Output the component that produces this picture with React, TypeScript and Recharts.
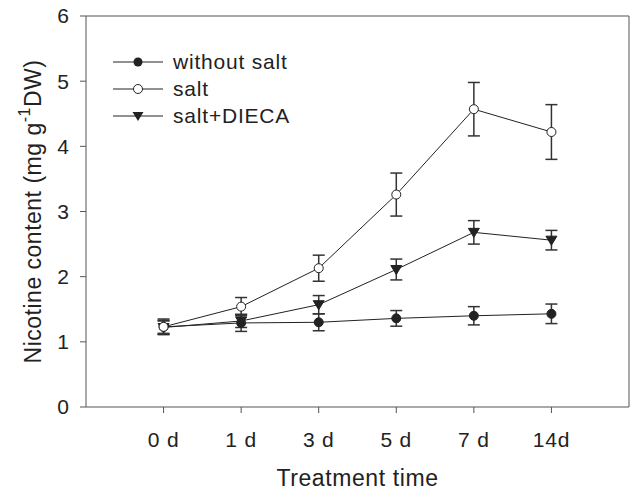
import {
  ErrorBar,
  Line,
  LineChart,
  ReferenceLine,
  XAxis,
  YAxis,
} from "recharts";

const days = ["0 d", "1 d", "3 d", "5 d", "7 d", "14d"];
const withoutSalt = [1.23, 1.29, 1.3, 1.36, 1.4, 1.43];
const withoutSaltErr = [0.12, 0.13, 0.13, 0.12, 0.14, 0.15];
const salt = [1.23, 1.54, 2.13, 3.26, 4.57, 4.22];
const saltErr = [0.1, 0.14, 0.2, 0.33, 0.41, 0.42];
const dieca = [1.22, 1.32, 1.57, 2.11, 2.68, 2.56];
const diecaErr = [0.1, 0.1, 0.14, 0.16, 0.18, 0.15];
const yTicks = [0, 1, 2, 3, 4, 5, 6];

const data = days.map((d, i) => ({
  x: i + 1,
  day: d,
  noSalt: withoutSalt[i],
  noSaltErr: withoutSaltErr[i],
  salt: salt[i],
  saltErr: saltErr[i],
  dieca: dieca[i],
  diecaErr: diecaErr[i],
}));

const FONT = '"Liberation Sans", Arial, sans-serif';
const INK = "#222";
const AXIS = "#555";

const Triangle = (props: any) => {
  const { cx, cy, key } = props;
  if (cx == null || cy == null) return null;
  return (
    <path
      key={key}
      d={`M${cx - 5.5},${cy - 4} L${cx + 5.5},${cy - 4} L${cx},${cy + 5} Z`}
      fill={INK}
      stroke={INK}
      strokeWidth={1}
    />
  );
};

const legendItems = [
  { name: "without salt", type: "filled" },
  { name: "salt", type: "open" },
  { name: "salt+DIECA", type: "tri" },
];

// legend sits inside the plot, top-left, as plain HTML over the svg
const LegendBox = () => (
  <div
    style={{
      position: "absolute",
      left: 113,
      top: 48,
      fontFamily: FONT,
      fontSize: 21,
      letterSpacing: 0.8,
      color: INK,
    }}
  >
    {legendItems.map((it) => (
      <div
        key={it.name}
        style={{ display: "flex", alignItems: "center", height: 27 }}
      >
        <svg width={50} height={14} style={{ marginRight: 10 }}>
          <line x1={0} y1={7} x2={50} y2={7} stroke={INK} strokeWidth={1} />
          {it.type === "filled" && <circle cx={25} cy={7} r={4.5} fill={INK} />}
          {it.type === "open" && (
            <circle cx={25} cy={7} r={4.5} fill="#fff" stroke={INK} />
          )}
          {it.type === "tri" && (
            <path d="M19.5,3 L30.5,3 L25,12 Z" fill={INK} />
          )}
        </svg>
        <span>{it.name}</span>
      </div>
    ))}
  </div>
);

const YLabel = (props: any) => {
  const vb = props.viewBox || {};
  const cx = 33;
  const cy = vb.y + vb.height / 2;
  return (
    <text
      x={cx}
      y={cy}
      transform={`rotate(-90, ${cx}, ${cy})`}
      textAnchor="middle"
      dominantBaseline="central"
      fontFamily={FONT}
      fontSize={23}
      letterSpacing={0.5}
      fill={INK}
    >
      Nicotine content (mg g
      <tspan dy={-9} fontSize={16}>
        -1
      </tspan>
      <tspan dy={9}>DW)</tspan>
    </text>
  );
};

const XLabel = (props: any) => {
  const vb = props.viewBox || {};
  return (
    <text
      x={vb.x + vb.width / 2}
      y={486}
      textAnchor="middle"
      fontFamily={FONT}
      fontSize={23}
      letterSpacing={0.6}
      fill={INK}
    >
      Treatment time
    </text>
  );
};

export default function App() {
  return (
    <div style={{ position: "absolute", left: 0, top: 0, background: "#fff" }}>
      <LineChart
        width={633}
        height={492}
        data={data}
        margin={{ top: 16, right: 4, left: 0, bottom: 0 }}
      >
        <XAxis
          dataKey="x"
          type="number"
          domain={[0, 7]}
          ticks={[1, 2, 3, 4, 5, 6]}
          tickFormatter={(v: number) => days[v - 1]}
          height={85}
          stroke={AXIS}
          tickSize={6}
          tickMargin={19}
          tick={{ fill: INK, fontSize: 21, fontFamily: FONT, letterSpacing: 0.8 }}
          label={<XLabel />}
        />
        <YAxis
          type="number"
          domain={[0, 6]}
          ticks={yTicks}
          width={86}
          stroke={AXIS}
          tickSize={6}
          tickMargin={11}
          tick={{ fill: INK, fontSize: 21, fontFamily: FONT }}
          label={<YLabel />}
        />
        <ReferenceLine y={6} stroke={AXIS} />
        <ReferenceLine x={7} stroke={AXIS} />
        <Line
          dataKey="noSalt"
          stroke={INK}
          strokeWidth={1}
          isAnimationActive={false}
          dot={{ r: 4.5, fill: INK, stroke: INK, strokeWidth: 1 }}
        >
          <ErrorBar dataKey="noSaltErr" direction="y" width={6} stroke="#333" />
        </Line>
        <Line
          dataKey="dieca"
          stroke={INK}
          strokeWidth={1}
          isAnimationActive={false}
          dot={<Triangle />}
        >
          <ErrorBar dataKey="diecaErr" direction="y" width={6} stroke="#333" />
        </Line>
        <Line
          dataKey="salt"
          stroke={INK}
          strokeWidth={1}
          isAnimationActive={false}
          dot={{ r: 4.5, fill: "#fff", stroke: INK, strokeWidth: 1 }}
        >
          <ErrorBar dataKey="saltErr" direction="y" width={6} stroke="#333" />
        </Line>
      </LineChart>
      <LegendBox />
    </div>
  );
}
